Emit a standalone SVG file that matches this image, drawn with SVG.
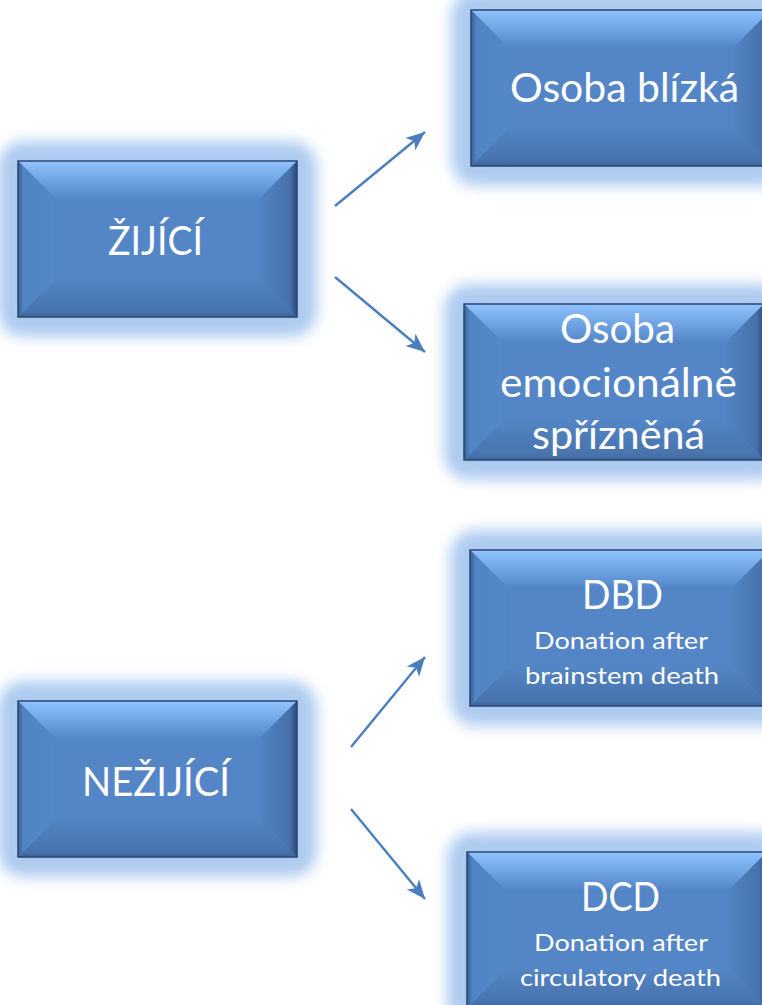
<svg xmlns="http://www.w3.org/2000/svg" xmlns:xlink="http://www.w3.org/1999/xlink" width="762" height="1005" viewBox="0 0 762 1005">
<style>
.t{font-family:Lato,"Open Sans","Liberation Sans",sans-serif;fill:#ffffff;text-anchor:middle}
.big{font-size:40px}
.small{font-size:23px}
.conn{stroke:#4A7EBE;stroke-width:2.4;fill:none;marker-end:url(#arr)}
</style>
<defs>
<filter id="glow" x="-30%" y="-50%" width="160%" height="200%"><feGaussianBlur stdDeviation="7"/></filter>
<linearGradient id="gTop" x1="0" y1="0" x2="0" y2="1"><stop offset="0" stop-color="#90C3FF"/><stop offset="0.35" stop-color="#7AAEEC"/><stop offset="1" stop-color="#5588CA"/></linearGradient>
<linearGradient id="gBot" x1="0" y1="0" x2="0" y2="1"><stop offset="0" stop-color="#5283C3"/><stop offset="0.85" stop-color="#4874AE"/><stop offset="1" stop-color="#3D6398"/></linearGradient>
<linearGradient id="gLeft" x1="0" y1="0" x2="1" y2="0"><stop offset="0" stop-color="#3A5F93"/><stop offset="0.15" stop-color="#5084C5"/><stop offset="1" stop-color="#5588C9"/></linearGradient>
<linearGradient id="gRight" x1="0" y1="0" x2="1" y2="0"><stop offset="0" stop-color="#5283C2"/><stop offset="0.8" stop-color="#4672AC"/><stop offset="1" stop-color="#2C4A74"/></linearGradient>
<g id="boxL">
<rect x="-20" y="-20" width="319" height="196" rx="26" fill="#ADCBF0" filter="url(#glow)"/>
<rect x="0" y="0" width="279" height="156" fill="#5486C7"/>
<polygon points="0,0 279,0 242,37 37,37" fill="url(#gTop)"/>
<polygon points="0,156 279,156 242,119 37,119" fill="url(#gBot)"/>
<polygon points="0,0 37,37 37,119 0,156" fill="url(#gLeft)"/>
<polygon points="279,0 242,37 242,119 279,156" fill="url(#gRight)"/>
<rect x="0" y="0" width="279" height="156" fill="none" stroke="#2A4670" stroke-width="1.5"/>
</g>
<g id="boxR">
<rect x="-20" y="-20" width="340" height="196" rx="26" fill="#ADCBF0" filter="url(#glow)"/>
<rect x="0" y="0" width="300" height="156" fill="#5486C7"/>
<polygon points="0,0 300,0 263,37 37,37" fill="url(#gTop)"/>
<polygon points="0,156 300,156 263,119 37,119" fill="url(#gBot)"/>
<polygon points="0,0 37,37 37,119 0,156" fill="url(#gLeft)"/>
<polygon points="300,0 263,37 263,119 300,156" fill="url(#gRight)"/>
<rect x="0" y="0" width="300" height="156" fill="none" stroke="#2A4670" stroke-width="1.5"/>
</g>
<marker id="arr" markerUnits="userSpaceOnUse" markerWidth="22" markerHeight="18" viewBox="0 0 22 18" refX="19" refY="9" orient="auto">
<path d="M0,1 L19,9 L0,17 L5,9 Z" fill="#4A7EBE"/>
</marker>
</defs>

<g id="node-zijici">
<use xlink:href="#boxL" href="#boxL" x="18" y="161"/>
<text class="t big" x="155.5" y="255" textLength="95" lengthAdjust="spacingAndGlyphs">ŽIJÍCÍ</text>
</g>
<g id="node-nezijici">
<use xlink:href="#boxL" href="#boxL" x="18" y="701"/>
<text class="t big" x="156" y="796" textLength="148" lengthAdjust="spacingAndGlyphs">NEŽIJÍCÍ</text>
</g>
<g id="node-osoba-blizka">
<use xlink:href="#boxR" href="#boxR" x="471" y="10"/>
<text class="t big" x="624.5" y="102" textLength="229" lengthAdjust="spacingAndGlyphs">Osoba blízká</text>
</g>
<g id="node-osoba-emoc">
<use xlink:href="#boxR" href="#boxR" x="464" y="304"/>
<text class="t big" x="617.5" y="343" textLength="115" lengthAdjust="spacingAndGlyphs">Osoba</text>
<text class="t big" x="618.5" y="397" textLength="237" lengthAdjust="spacingAndGlyphs">emocionálně</text>
<text class="t big" x="618.5" y="449" textLength="173" lengthAdjust="spacingAndGlyphs">spřízněná</text>
</g>
<g id="node-dbd">
<use xlink:href="#boxR" href="#boxR" x="470" y="550"/>
<text class="t big" x="622.5" y="609" textLength="81" lengthAdjust="spacingAndGlyphs">DBD</text>
<text class="t small" x="621" y="649" textLength="174" lengthAdjust="spacingAndGlyphs">Donation after</text>
<text class="t small" x="622" y="684" textLength="194" lengthAdjust="spacingAndGlyphs">brainstem death</text>
</g>
<g id="node-dcd">
<use xlink:href="#boxR" href="#boxR" x="467" y="852"/>
<text class="t big" x="620.5" y="911" textLength="79" lengthAdjust="spacingAndGlyphs">DCD</text>
<text class="t small" x="621" y="951" textLength="174" lengthAdjust="spacingAndGlyphs">Donation after</text>
<text class="t small" x="620.5" y="986" textLength="201" lengthAdjust="spacingAndGlyphs">circulatory death</text>
</g>

<g id="connectors">
<line class="conn" x1="335" y1="206" x2="425" y2="132"/>
<line class="conn" x1="335" y1="277" x2="425" y2="352"/>
<line class="conn" x1="351" y1="747" x2="425" y2="657"/>
<line class="conn" x1="351" y1="809" x2="425" y2="899"/>
</g>
</svg>
